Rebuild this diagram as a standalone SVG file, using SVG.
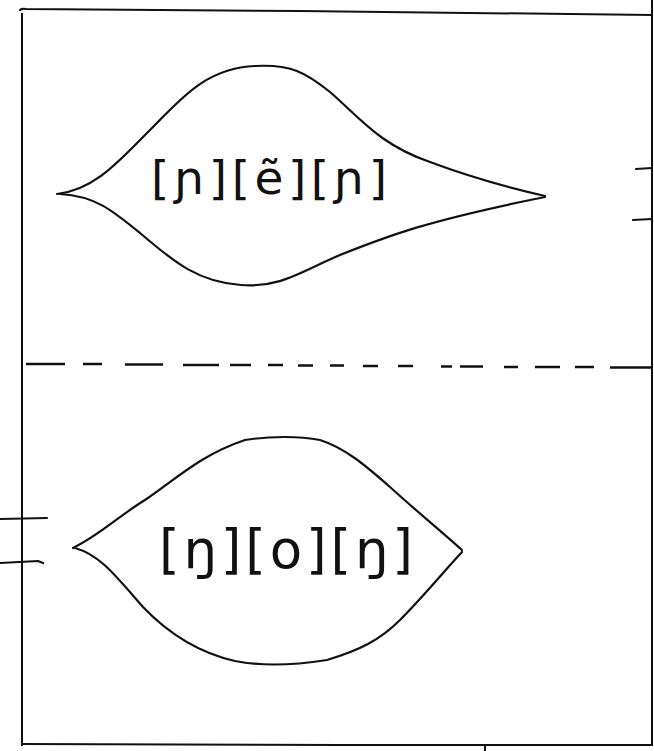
<svg xmlns="http://www.w3.org/2000/svg" width="654" height="751" viewBox="0 0 654 751">
  <style>
    .ink { fill: none; stroke: #111; stroke-width: 2.2; stroke-linecap: round; stroke-linejoin: round; }
    .frame { fill: none; stroke: #111; stroke-width: 2; stroke-linecap: square; }
    .dash { fill: none; stroke: #111; stroke-width: 2.4; }
    .ipa { font-family: "DejaVu Sans", "Noto Sans", sans-serif; fill: #111; text-anchor: middle; }
  </style>
  <rect x="0" y="0" width="654" height="751" fill="#ffffff"/>

  <g id="frame">
    <path class="frame" d="M20,10 Q21,8 26,9 L300,11 L652,15"/>
    <path class="frame" d="M22,14 L22,745"/>
    <path class="frame" d="M652,0 L652,745"/>
    <path class="frame" d="M22,744 L340,745 L652,745"/>
    <path class="frame" d="M485,745 L485,751"/>
  </g>

  <g id="divider">
    <path class="dash" d="M26,364 L65,364 M83,364 L102,364 M125,364.5 L163,364.5 M183,365 L219,365 M230,365 L251,365 M268,365 L283,365 M298,365.5 L313,365.5 M330,365.5 L344,365.5 M363,366 L378,366 M398,366 L413,366 M441,366.5 L452,366.5 M460,366.5 L483,366.5 M504,367 L518,367 M535,367 L560,367 M575,367 L594,367 M610,367.5 L652,367.5"/>
  </g>

  <g id="connectors">
    <path class="ink" d="M636,169 L652,168"/>
    <path class="ink" d="M633,220 L652,219"/>
    <path class="ink" d="M0,519 L47,518"/>
    <path class="ink" d="M0,563 L38,561 L43,563"/>
  </g>

  <g id="lens-top">
    <path class="ink" d="M57,194 C95,190 120,160 150,130 C180,100 205,68 255,66 C290,64 305,72 330,92 C360,118 380,145 430,162 C470,177 510,188 545,196"/>
    <path class="ink" d="M60,194 C95,196 112,210 140,233 C170,258 195,282 241,285 C280,288 300,272 340,255 C390,235 430,220 545,197"/>
    <text class="ipa" x="269" y="194" font-size="47" textLength="236" lengthAdjust="spacing">[ɲ][ẽ][ɲ]</text>
  </g>

  <g id="lens-bottom">
    <path class="ink" d="M73,548 C100,535 120,515 145,500 C175,480 200,455 245,440 C270,436 300,436 320,440 C345,448 365,465 390,487 C415,510 440,530 462,550"/>
    <path class="ink" d="M75,548 C100,555 115,575 143,607 C165,630 195,652 235,661 C260,666 295,665 327,660 C360,650 380,640 400,620 C425,595 445,570 462,552"/>
    <text class="ipa" x="286" y="568" font-size="53" textLength="254" lengthAdjust="spacing">[ŋ][o][ŋ]</text>
  </g>
</svg>
